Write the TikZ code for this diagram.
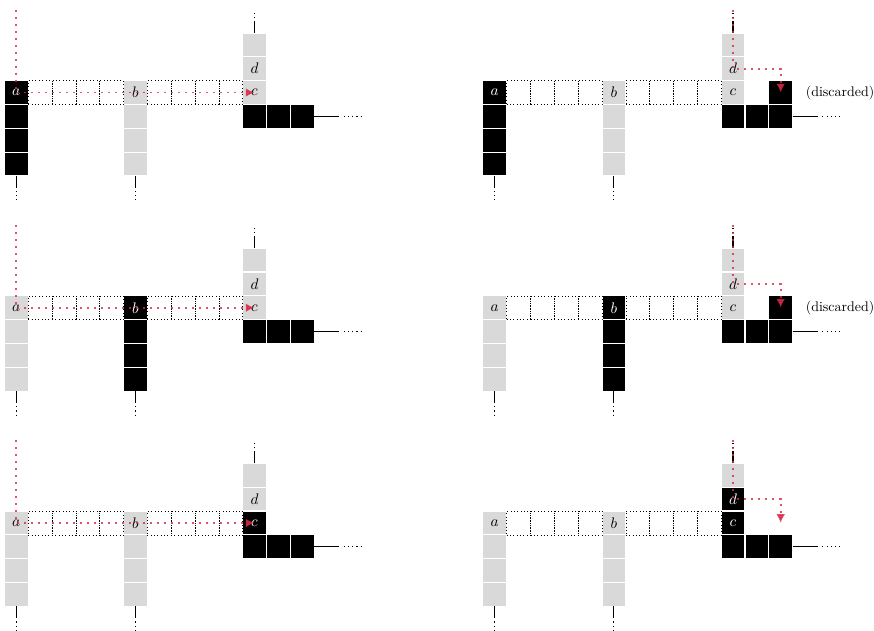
\documentclass[tikz,border=0pt]{standalone}
\usepackage{amsmath,amssymb}
\usepackage{tikz}
\usepackage{xcolor}
\usetikzlibrary{arrows.meta,positioning}

\definecolor{probered}{RGB}{215,40,70}

\begin{document}
\begin{tikzpicture}[
  node distance=0mm,
  cell/.style={draw=white, line width=0.8pt, minimum size=6mm, inner sep=0pt, outer sep=0pt, font=\fontsize{10.5}{12}\selectfont},
  blk/.style={cell, fill=black, text=white},
  gry/.style={cell, fill=black!15},
  slot/.style={draw, dotted, minimum size=6mm, inner sep=0pt, outer sep=0pt},
  stub/.style={line width=0.8pt},
  more/.style={line width=0.8pt, dash pattern=on 0.8pt off 2.2pt},
  probe/.style={draw=probered, opacity=0.8, line width=1.4pt, dash pattern=on 1.4pt off 3.6pt,
    -{Latex[length=2.2mm, width=2.2mm]}}
]
\useasboundingbox (0,0) rectangle (22.01,-15.89);
\foreach \px/\py/\ca/\cb/\cc/\cd/\mode in {
  0/0/blk/gry/gry/gry/0, 0/-5.42/gry/blk/gry/gry/0, 0/-10.84/gry/gry/blk/gry/0,
  12.05/0/blk/gry/gry/gry/1, 12.05/-5.42/gry/blk/gry/gry/1, 12.05/-10.84/gry/gry/blk/blk/2} {
\begin{scope}[shift={(0.41+\px,-2.33+\py)}]
  \node[\ca] (a0) {$a$};
  \foreach \i/\j in {1/0,2/1,3/2} \node[\ca, below=of a\j] (a\i) {};
  \node[\cb] (b0) at (3,0) {$b$};
  \foreach \i/\j in {1/0,2/1,3/2} \node[\cb, below=of b\j] (b\i) {};
  \node[\cc] (c0) at (6,0) {$c$};
  \node[\cd, above=of c0] (d0) {$d$};
  \node[gry, above=of d0] (e0) {};
  \node[blk, below=of c0] (f1) {};
  \node[blk, right=of f1] (f2) {};
  \node[blk, right=of f2] (f3) {};
  \foreach \i in {1,...,4} {
    \node[slot] (s\i) at (\i*0.6,0) {};
    \node[slot] (t\i) at (3+\i*0.6,0) {};
  }
  % open ends
  \draw[stub] (a3.south) -- ++(0,-0.3);
  \draw[more] ([yshift=-0.38cm]a3.south) -- ++(0,-0.26);
  \draw[stub] (b3.south) -- ++(0,-0.3);
  \draw[more] ([yshift=-0.38cm]b3.south) -- ++(0,-0.26);
  \draw[stub] (e0.north) -- ++(0,0.3);
  \draw[more] ([yshift=0.38cm]e0.north) -- ++(0,0.2);
  \draw[stub] (f3.east) -- ++(0.63,0);
  \draw[more] ([xshift=0.75cm]f3.east) -- ++(0.45,0);
  \ifnum\mode=0
    \coordinate (top) at (0,2.08);
    \draw[probe] (top) -- (a0.center) -- (c0.center);
  \else
    \coordinate (top) at (6,2.08);
    \coordinate (drop) at (f3 |- c0);
    \ifnum\mode=1
      \node[blk, above=of f3] (x0) {};
      \node[right=2.1mm of x0] (note) {(discarded)};
    \fi
    \draw[probe] (top) -- (d0.center) -| (drop);
  \fi
\end{scope}
}
\end{tikzpicture}
\end{document}
